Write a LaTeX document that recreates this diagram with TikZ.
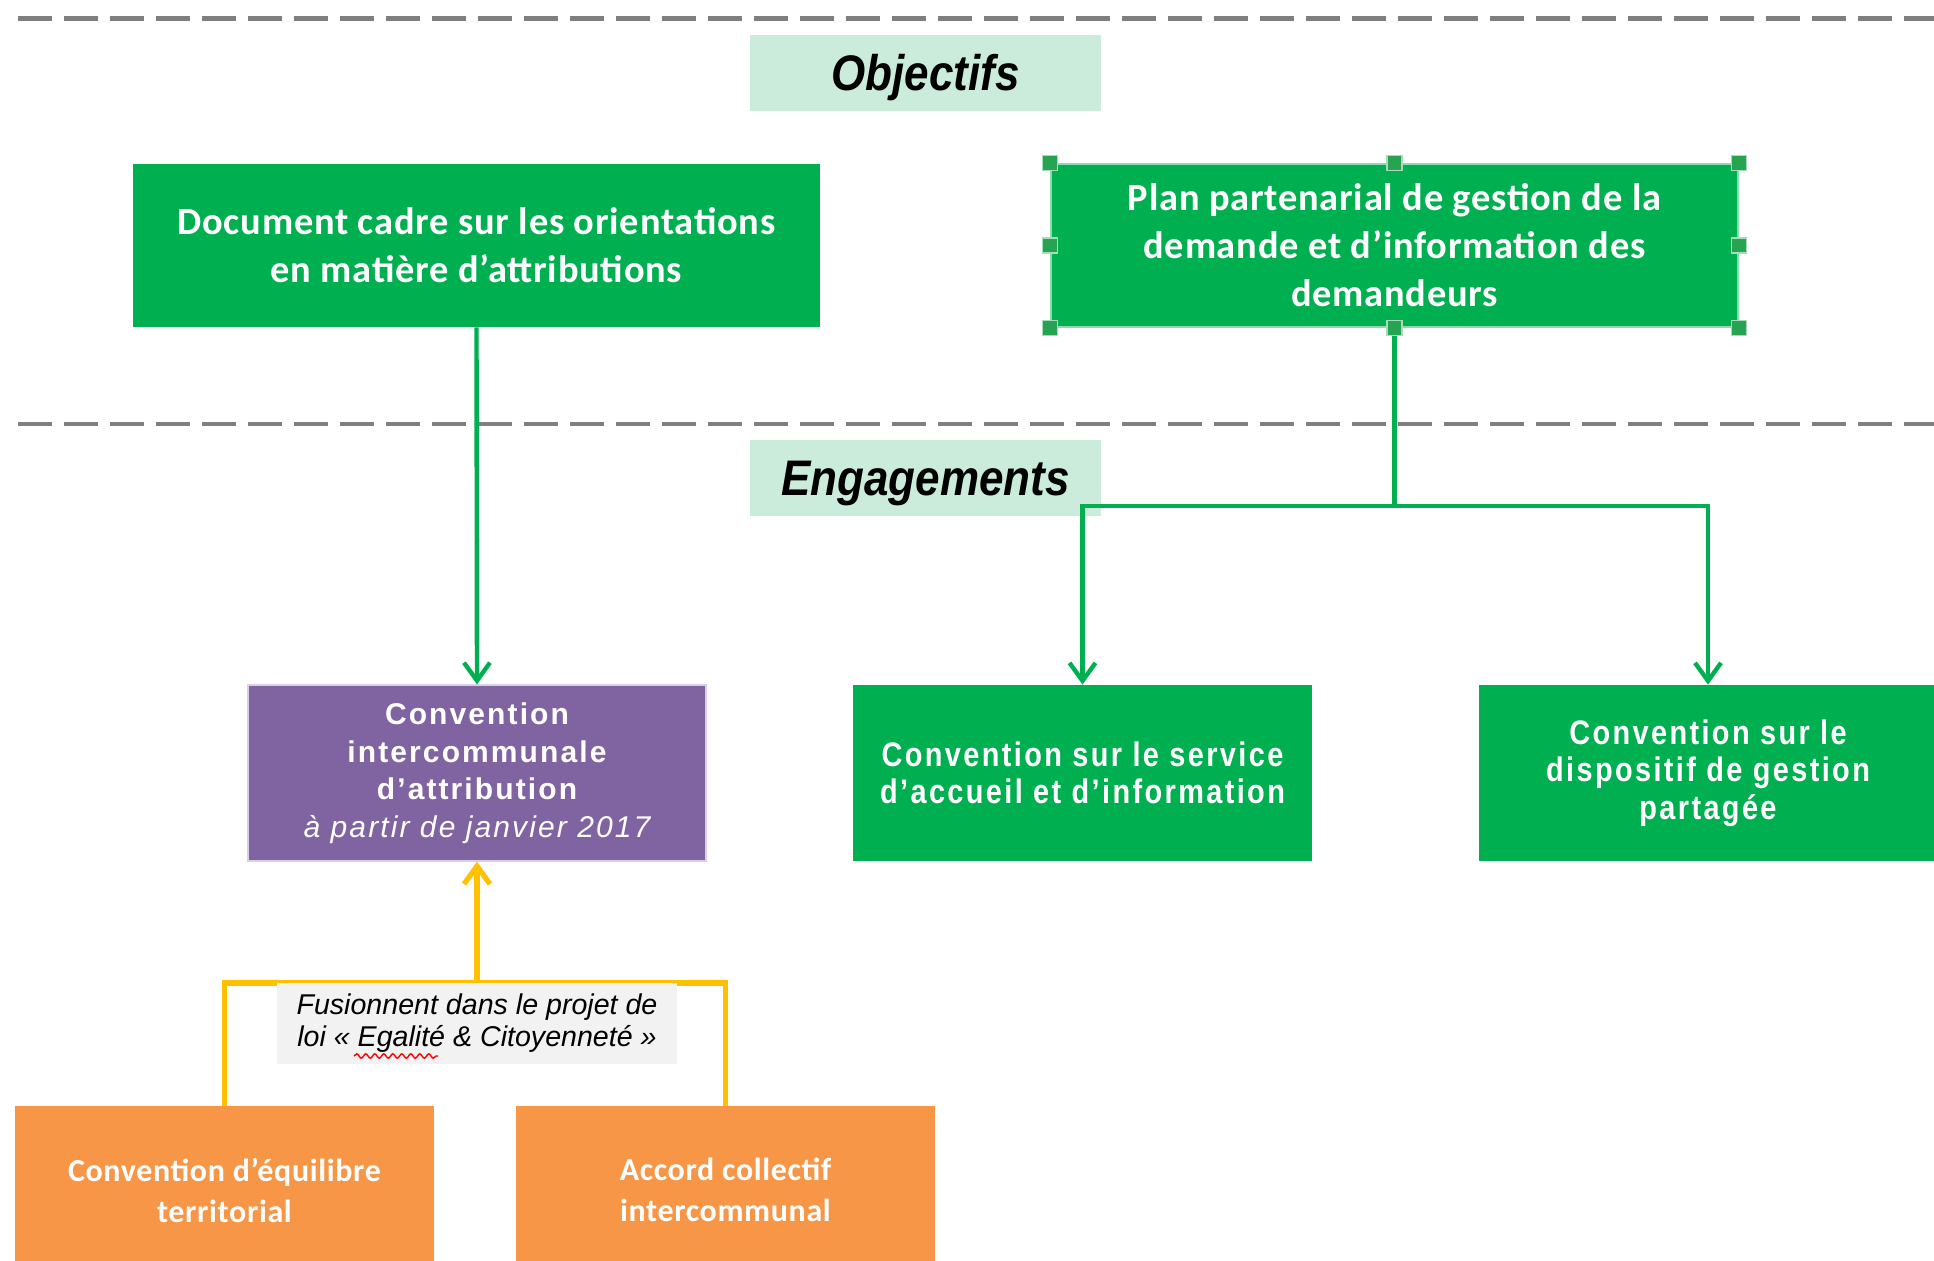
\documentclass[tikz,border=0pt]{standalone}
\usepackage{fontspec}
\setmainfont{Liberation Sans}
\usetikzlibrary{arrows.meta,decorations.pathmorphing}
\newfontfamily\calbri[LetterSpace=2]{Carlito}
\newfontfamily\calorange[LetterSpace=2]{Carlito}
\newfontfamily\arialsp[LetterSpace=7]{Liberation Sans}
\newfontfamily\arialnar[FakeStretch=0.85,LetterSpace=7]{Liberation Sans}
\newfontfamily\arialhead[FakeStretch=0.88]{Liberation Sans}
\definecolor{gr}{HTML}{00B050}
\definecolor{mint}{RGB}{204,236,219}
\definecolor{purp}{HTML}{8064A2}
\definecolor{orng}{HTML}{F79646}
\definecolor{yel}{HTML}{FFC000}
\definecolor{lgrey}{HTML}{F2F2F2}
\definecolor{sepgrey}{HTML}{7F7F7F}
\definecolor{hdl}{HTML}{27A452}
\tikzset{
  x=0.5pt, y=-0.5pt,
  hbox/.style={fill=mint, minimum width=175.5pt, minimum height=38pt, inner sep=0,
    font=\arialhead\bfseries\itshape\fontsize{25}{30}\selectfont},
  gbox/.style={fill=gr, text=white, align=center, inner sep=0},
  bigbox/.style={gbox, minimum width=343.5pt, minimum height=81.5pt,
    font=\calbri\bfseries\fontsize{19.2}{24}\selectfont},
  engbox/.style={gbox, minimum width=229.5pt, minimum height=88pt,
    font=\arialnar\bfseries\fontsize{17}{18.75}\selectfont},
  obox/.style={fill=orng, text=white, align=center, inner sep=0,
    minimum width=209.5pt, minimum height=84pt,
    font=\calorange\bfseries\fontsize{16}{20.5}\selectfont},
  sepline/.style={draw=sepgrey, line width=2.2pt, dash pattern=on 17pt off 6pt},
  gline/.style={draw=gr, line width=2.2pt},
  garrow/.style={gline, -{Straight Barb[length=9pt,width=13pt]}},
  yline/.style={draw=yel, line width=2.6pt},
  yarrow/.style={yline, -{Straight Barb[length=9pt,width=13pt]}},
  handle/.style={fill=hdl, draw=white!60!hdl, line width=0.6pt, minimum size=7.5pt, inner sep=0}
}
\begin{document}
\begin{tikzpicture}
\useasboundingbox (0,0) rectangle (1934,1260);
% separators
\coordinate (d1a) at (18,18.5);
\coordinate (d1b) at (1934,18.5);
\coordinate (d2a) at (18,424);
\coordinate (d2b) at (1934,424);
\draw[sepline] (d1a) -- (d1b);
\draw[sepline] (d2a) -- (d2b);
% headings
\node[hbox] (obj) at (925.5,73) {\raisebox{-2.5pt}[\height][\depth]{Objectifs}};
\node[hbox] (eng) at (925.5,478) {\raisebox{-2.5pt}[\height][\depth]{Engagements}};
% objective boxes
\node[bigbox] (doc) at (476.5,245.5) {Document cadre sur les orientations\\en matière d’attributions};
\node[bigbox, draw=white!55!gr, line width=0.8pt] (plan) at (1394.5,245.5) {Plan partenarial de gestion de la\\demande et d’information des\\demandeurs};
% engagement boxes
\node[gbox, fill=purp, draw=white!70!purp, line width=0.6pt, minimum width=229pt, minimum height=88pt,
  font=\arialsp\bfseries\fontsize{15}{18.75}\selectfont] (cia) at (477,773)
  {Convention\\intercommunale\\d’attribution\\{\mdseries\itshape à partir de janvier 2017}};
\node[engbox] (csa) at (1082.5,773) {Convention sur le service\\d’accueil et d’information};
\node[engbox] (cdg) at (1708,773) {Convention sur le\\dispositif de gestion\\partagée};
% orange boxes
\node[obox] (ol) at (224.5,1190) {Convention d’équilibre\\territorial};
\node[obox] (orr) at (725.5,1190) {Accord collectif\\intercommunal};
% green connectors
\coordinate (split) at (1394.5,506);
\draw[garrow] (doc.south) -- (cia.north);
\draw[gline] (plan.south) -- (split);
\draw[garrow] (split) -| (csa.north);
\draw[garrow] (split) -| (cdg.north);
% selection handles
\foreach \a [count=\i] in {north west,north,north east,west,east,south west,south,south east}
  \node[handle] (h\i) at (plan.\a) {};
% yellow connectors
\coordinate (ym) at (477,983);
\draw[yline] (ol.north) -- (ol.north |- ym) -- (orr.north |- ym) -- (orr.north);
\node[fill=lgrey, align=center, inner sep=0, minimum width=200pt, minimum height=40.5pt,
  font=\itshape\fontsize{14.3}{16}\selectfont] (fus) at (477,1023.5)
  {Fusionnent dans le projet de\\loi « Egalité \& Citoyenneté »};
\draw[yarrow] (fus.north) -- (cia.south);
% spell-check underline
\coordinate (wa) at (354,1056);
\coordinate (wb) at (438,1056);
\draw[red, line width=0.7pt, decorate, decoration={snake, amplitude=1.1pt, segment length=4.5pt}] (wa) -- (wb);
\end{tikzpicture}
\end{document}
